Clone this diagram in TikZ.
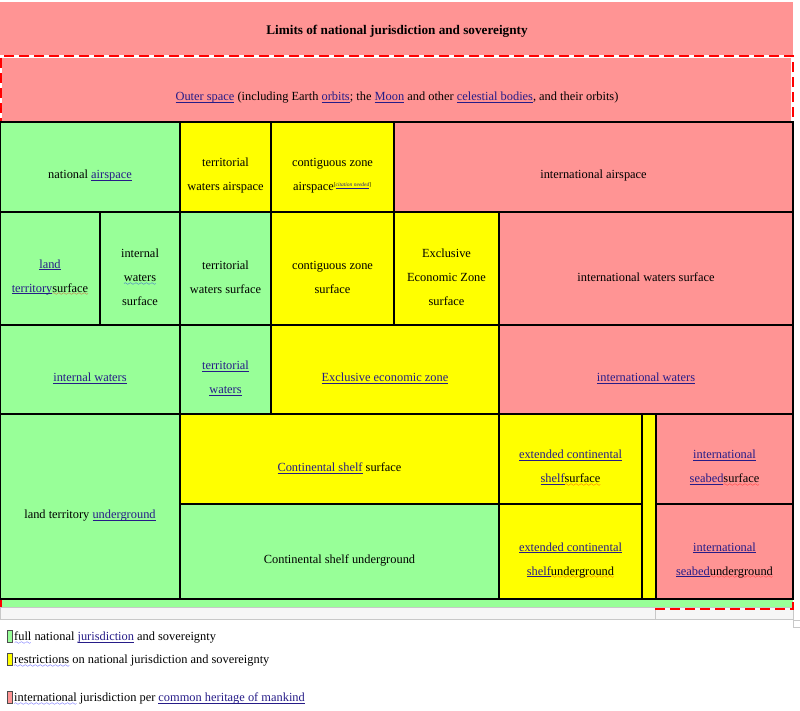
\documentclass[tikz,border=0pt]{standalone}
\usepackage{fontspec}
\setmainfont{Liberation Serif}
\usepackage{xcolor}
\definecolor{LinkBlue}{HTML}{261C88}
\definecolor{SovGreen}{HTML}{98FF98}
\definecolor{SovYellow}{HTML}{FFFF00}
\definecolor{IntlPink}{HTML}{FF9494}
\definecolor{FrameGray}{HTML}{C8C8C8}
\font\wavefont=lasy6
\newcommand{\lnk}[1]{\textcolor{LinkBlue}{\setbox0\hbox{#1}\rlap{\rule[-1.8pt]{\wd0}{0.55pt}}\box0\relax}}
\newcommand{\wavy}[2]{\setbox0\hbox{#2}\rlap{\raisebox{-3.4pt}{\hbox to \wd0{\color{#1}\xleaders\hbox{\wavefont\char58}\hfil}}}\box0\relax}
\newcommand{\redwave}[1]{\wavy{red}{#1}}
\newcommand{\bluewave}[1]{\wavy{blue}{#1}}

\begin{document}
\begin{tikzpicture}[
        x = 1pt, y = -1pt,
        font = \fontsize{12.4}{24}\selectfont,
        cell/.style        = {draw = black, line width = 1.3pt},
        green cell/.style  = {cell, fill = SovGreen},
        yellow cell/.style = {cell, fill = SovYellow},
        pink cell/.style   = {cell, fill = IntlPink},
        limit/.style       = {draw = red, line width = 2pt, dash pattern = on 10pt off 5pt},
        key/.style         = {draw = black!70, line width = 0.6pt},
    ]
    \useasboundingbox (0,0) rectangle (800,711);

    % header and outer space
    \fill[IntlPink] (0,2) rectangle (793,55);
    \fill[IntlPink] (2,58) rectangle (791,121);
    \node[font = \fontsize{13.2}{24}\selectfont\bfseries] (title) at (397,31)
        {Limits of national jurisdiction and sovereignty};
    \node (outer) at (397,98)
        {\lnk{Outer space} (including Earth \lnk{orbits}; the \lnk{Moon} and other \lnk{celestial bodies}, and their orbits)};

    % strip below the table
    \fill[SovGreen] (0,599) rectangle (793,607);
    \draw[FrameGray, fill = gray!7] (0,607) rectangle (655,619);
    \draw[FrameGray, fill = gray!7] (655,607) rectangle (793,619);
    \draw[FrameGray] (793,620) rectangle (800,627);

    % limit of national jurisdiction
    \draw[limit] (655,609) -| (793,56) -| (1,607);

    % airspace
    \draw[green cell]  (0,122)   rectangle (180,212);
    \draw[yellow cell] (180,122) rectangle (271,212);
    \draw[yellow cell] (271,122) rectangle (394,212);
    \draw[pink cell]   (394,122) rectangle (793,212);
    % surface
    \draw[green cell]  (0,212)   rectangle (100,325);
    \draw[green cell]  (100,212) rectangle (180,325);
    \draw[green cell]  (180,212) rectangle (271,325);
    \draw[yellow cell] (271,212) rectangle (394,325);
    \draw[yellow cell] (394,212) rectangle (499,325);
    \draw[pink cell]   (499,212) rectangle (793,325);
    % waters
    \draw[green cell]  (0,325)   rectangle (180,414);
    \draw[green cell]  (180,325) rectangle (271,414);
    \draw[yellow cell] (271,325) rectangle (499,414);
    \draw[pink cell]   (499,325) rectangle (793,414);
    % seabed and underground
    \draw[green cell]  (0,414)   rectangle (180,599);
    \draw[yellow cell] (180,414) rectangle (499,504);
    \draw[green cell]  (180,504) rectangle (499,599);
    \draw[yellow cell] (499,414) rectangle (642,504);
    \draw[yellow cell] (499,504) rectangle (642,599);
    \draw[yellow cell] (642,414) rectangle (656,599);
    \draw[pink cell]   (656,414) rectangle (793,504);
    \draw[pink cell]   (656,504) rectangle (793,599);

    \begin{scope}[
        every node/.style = {
            align  = center,
            yshift = -9pt,
        }
    ]
        \node (natair)  at (90,167)    {national \lnk{airspace}};
        \node (terrair) at (225.5,167) {territorial\\waters airspace};
        \node (contair) at (332.5,167) {contiguous zone\\airspace\textsuperscript{\fontsize{5.5}{6}\selectfont[\textit{\lnk{citation needed}}]}};
        \node (intlair) at (593.5,167) {international airspace};

        \node (landsurf)  at (50,268.5)    {\lnk{land}\\\lnk{territory}\redwave{surface}};
        \node (intwsurf)  at (140,268.5)   {internal\\\bluewave{waters}\\surface};
        \node (terrsurf)  at (225.5,268.5) {territorial\\waters surface};
        \node (contsurf)  at (332.5,268.5) {contiguous zone\\surface};
        \node (eezsurf)   at (446.5,268.5) {Exclusive\\Economic Zone\\surface};
        \node (intlwsurf) at (646,268.5)   {international waters surface};

        \node (intwat)  at (90,369.5)    {\lnk{internal waters}};
        \node (terrwat) at (225.5,369.5) {\lnk{territorial}\\\lnk{waters}};
        \node (eez)     at (385,369.5)   {\lnk{Exclusive economic zone}};
        \node (intlwat) at (646,369.5)   {\lnk{international waters}};

        \node (landunder)   at (90,506.5)    {land territory \lnk{underground}};
        \node (shelfsurf)   at (339.5,459)   {\lnk{Continental shelf} surface};
        \node (shelfunder)  at (339.5,551.5) {Continental shelf underground};
        \node (extsurf)     at (570.5,459)   {\lnk{extended continental}\\\lnk{shelf}\redwave{surface}};
        \node (extunder)    at (570.5,551.5) {\lnk{extended continental}\\\lnk{shelf}\redwave{underground}};
        \node (seabedsurf)  at (724.5,459)   {\lnk{international}\\\lnk{seabed}\redwave{surface}};
        \node (seabedunder) at (724.5,551.5) {\lnk{international}\\\lnk{seabed}\redwave{underground}};
    \end{scope}

    % legend
    \draw[key, fill = SovGreen]  (7,630) rectangle (12,642);
    \draw[key, fill = SovYellow] (7,653) rectangle (12,665);
    \draw[key, fill = IntlPink]  (7,691) rectangle (12,703);
    \begin{scope}[
        every node/.style = {
            anchor    = west,
            inner sep = 0pt,
        }
    ]
        \node (fullkey)  at (14,638) {\bluewave{full} national \lnk{jurisdiction} and sovereignty};
        \node (restrkey) at (14,661) {\bluewave{restrictions} on national jurisdiction and sovereignty};
        \node (intlkey)  at (14,699) {\bluewave{international} jurisdiction per \lnk{common heritage of mankind}};
    \end{scope}
\end{tikzpicture}
\end{document}
